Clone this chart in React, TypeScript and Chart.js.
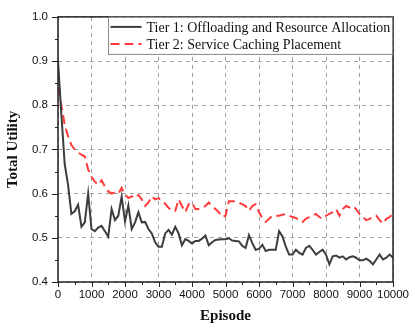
import React, { useEffect, useRef } from "react";
import { Chart, registerables } from "chart.js";

Chart.register(...registerables);

const episodes: number[] = Array.from({ length: 101 }, (_, i) => i * 100);

const tier1: number[] = [
  0.9, 0.78, 0.667, 0.62, 0.554, 0.56, 0.575, 0.525, 0.535, 0.6,
  0.52, 0.515, 0.523, 0.527, 0.515, 0.503, 0.565, 0.54, 0.55, 0.593,
  0.537, 0.573, 0.52, 0.535, 0.558, 0.535, 0.536, 0.52, 0.51, 0.49,
  0.48, 0.48, 0.51, 0.518, 0.507, 0.525, 0.51, 0.483, 0.497, 0.493,
  0.487, 0.493, 0.493, 0.498, 0.505, 0.483, 0.49, 0.495, 0.496, 0.497,
  0.497, 0.499, 0.494, 0.493, 0.492, 0.482, 0.477, 0.506, 0.488, 0.473,
  0.475, 0.484, 0.47, 0.473, 0.473, 0.473, 0.515, 0.503, 0.48, 0.462,
  0.462, 0.473, 0.466, 0.462, 0.477, 0.482, 0.473, 0.462, 0.468, 0.473,
  0.462, 0.44, 0.458, 0.46, 0.455, 0.458, 0.451, 0.456, 0.458, 0.455,
  0.449, 0.449, 0.453, 0.448, 0.44, 0.451, 0.462, 0.451, 0.455, 0.462,
  0.455,
];

const tier2: number[] = [
  0.84, 0.8, 0.756, 0.73, 0.71, 0.7, 0.693, 0.688, 0.684, 0.655,
  0.638, 0.627, 0.62, 0.63, 0.616, 0.605, 0.6, 0.603, 0.6, 0.613,
  0.598, 0.59, 0.594, 0.59, 0.597, 0.587, 0.572, 0.58, 0.594, 0.587,
  0.59, 0.583, 0.577, 0.568, 0.561, 0.561, 0.587, 0.572, 0.558, 0.576,
  0.58, 0.565, 0.565, 0.568, 0.572, 0.58, 0.572, 0.565, 0.558, 0.547,
  0.55, 0.583, 0.583, 0.583, 0.58, 0.576, 0.572, 0.561, 0.572, 0.576,
  0.558, 0.545, 0.536, 0.543, 0.55, 0.55, 0.55, 0.552, 0.554, 0.55,
  0.547, 0.545, 0.54, 0.536, 0.543, 0.547, 0.55, 0.554, 0.547, 0.543,
  0.55, 0.554, 0.558, 0.565, 0.55, 0.565, 0.572, 0.569, 0.572, 0.565,
  0.554, 0.547, 0.54, 0.543, 0.547, 0.55, 0.54, 0.532, 0.543, 0.547,
  0.554,
];

const seriesLabels: string[] = [
  "Tier 1: Offloading and Resource Allocation",
  "Tier 2: Service Caching Placement",
];

const xTitle = "Episode";
const yTitle = "Total Utility";

const SERIF = "'Liberation Serif', 'Times New Roman', serif";
const SANS = "'Liberation Sans', Arial, sans-serif";

const framePlugin = {
  id: "frameAndLegend",
  afterDraw(chart: any) {
    const ctx = chart.ctx;
    const { left, right, top, bottom } = chart.chartArea;
    const xs = chart.scales.x;
    const ys = chart.scales.y;
    ctx.save();
    ctx.strokeStyle = "#222";
    ctx.lineWidth = 1;
    for (let v = 0; v <= 10000; v += 500) {
      const px = Math.round(xs.getPixelForValue(v)) + 0.5;
      const len = v % 1000 === 0 ? 5 : 3;
      ctx.beginPath();
      ctx.moveTo(px, bottom);
      ctx.lineTo(px, bottom + len);
      ctx.stroke();
    }
    for (let k = 0; k <= 12; k++) {
      const v = 0.4 + k * 0.05;
      const py = Math.round(ys.getPixelForValue(v)) + 0.5;
      const len = k % 2 === 0 ? 6 : 3;
      ctx.beginPath();
      ctx.moveTo(left, py);
      ctx.lineTo(left - len, py);
      ctx.stroke();
    }
    ctx.strokeStyle = "#222";
    ctx.lineWidth = 1.5;
    ctx.strokeRect(left, top, right - left, bottom - top);

    const bx = 108.5, by = top, bw = 284, bh = 37;
    ctx.fillStyle = "#fff";
    ctx.fillRect(bx, by, bw, bh);
    ctx.strokeStyle = "#888";
    ctx.lineWidth = 1;
    ctx.strokeRect(bx, by + 0.5, bw, bh);
    const ds = chart.data.datasets;
    const rows = [top + 10, top + 27];
    ctx.font = `14px ${SERIF}`;
    ctx.textBaseline = "middle";
    ds.forEach((d: any, i: number) => {
      const y = rows[i];
      ctx.strokeStyle = d.borderColor;
      ctx.lineWidth = d.borderWidth;
      ctx.setLineDash(d.borderDash || []);
      ctx.beginPath();
      ctx.moveTo(bx + 2, y);
      ctx.lineTo(bx + 33, y);
      ctx.stroke();
      ctx.setLineDash([]);
      ctx.fillStyle = "#111";
      ctx.fillText(d.label, bx + 38, y + 1);
    });
    ctx.restore();
  },
};

export default function App() {
  const ref = useRef<HTMLCanvasElement | null>(null);
  useEffect(() => {
    if (!ref.current) return;
    const chart = new Chart(ref.current, {
      type: "line",
      data: {
        datasets: [
          {
            label: seriesLabels[0],
            data: episodes.map((e, i) => ({ x: e, y: tier1[i] })),
            borderColor: "#3d3d3d",
            borderWidth: 2,
            pointRadius: 0,
            tension: 0,
            fill: false,
          },
          {
            label: seriesLabels[1],
            data: episodes.map((e, i) => ({ x: e, y: tier2[i] })),
            borderColor: "#ff3a3a",
            borderWidth: 2,
            borderDash: [9, 5],
            pointRadius: 0,
            tension: 0,
            fill: false,
          },
        ],
      },
      options: {
        animation: false,
        responsive: false,
        devicePixelRatio: 1,
        layout: { padding: { top: 9, right: 20, left: 0, bottom: 0 } },
        plugins: { legend: { display: false }, tooltip: { enabled: false } },
        scales: {
          x: {
            type: "linear",
            min: 0,
            max: 10000,
            afterFit: (s: any) => { s.height = 47; },
            ticks: {
              stepSize: 1000,
              autoSkip: false,
              maxRotation: 0,
              color: "#111",
              padding: 6,
              font: { family: SANS, size: 11.5 },
              callback: (v: any) => String(Math.round(Number(v))),
            },
            grid: { color: "#a0a0a0", lineWidth: 1, drawTicks: false },
            border: { display: false, dash: [4, 4] },
            title: {
              display: true,
              text: xTitle,
              color: "#111",
              font: { family: SERIF, size: 15, weight: "bold" },
              padding: { top: 0, bottom: 4 },
            },
          },
          y: {
            type: "linear",
            min: 0.4,
            max: 1.0,
            afterFit: (s: any) => { s.width = 58; },
            ticks: {
              stepSize: 0.1,
              color: "#111",
              padding: 10,
              font: { family: SANS, size: 11.5 },
              callback: (v: any) => Number(v).toFixed(1),
            },
            grid: { color: "#a0a0a0", lineWidth: 1, drawTicks: false },
            border: { display: false, dash: [4, 4] },
            title: {
              display: true,
              text: yTitle,
              color: "#111",
              font: { family: SERIF, size: 15, weight: "bold" },
              padding: { top: 4, bottom: 0 },
            },
          },
        },
      },
      plugins: [framePlugin],
    });
    return () => chart.destroy();
  }, []);
  return (
    <div style={{ position: "absolute", left: 0, top: 0, width: 415, height: 329, background: "#fff" }}>
      <canvas ref={ref} width={415} height={329} />
    </div>
  );
}
